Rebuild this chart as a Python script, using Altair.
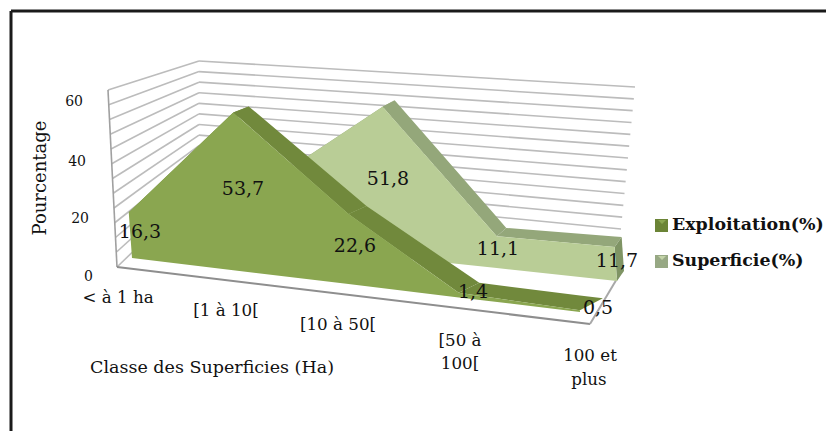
import altair as alt
import pandas as pd

categories = ["< à 1 ha", "[1 à 10[", "[10 à 50[", "[50 à 100[", "100 et plus"]
exploitation = [16.3, 53.7, 22.6, 1.4, 0.5]
superficie = [2.0, 23.4, 51.8, 11.1, 11.7]
exploitation_labels = ["16,3", "53,7", "22,6", "1,4", "0,5"]
superficie_labels = [None, None, "51,8", "11,1", "11,7"]
value_ticks = [0, 20, 40, 60]
grid_values = list(range(0, 65, 5))

# screen layout of the 3D view (separate from the data above)
EX_X = [132, 244, 353, 459, 580]
SU_X = [169, 281, 393, 499, 617]

SERIF = "DejaVu Serif"
W, H = 818, 423
X = alt.Scale(domain=[8, 8 + W], range=[0, W], nice=False, zero=False)
Y = alt.Scale(domain=[8 + H, 8], nice=False, zero=False)


def ex_base(i):
    x = EX_X[i]
    return x, 258 + 54 * (x - 132) / 448


def ex_top(i, v):
    x, y = ex_base(i)
    return x - 0.2 * v, y - (2.8 + 0.65 * i / 4) * v


def ex_back(i, v):
    x, y = ex_top(i, v)
    u = i / 4
    return x + 13 + 10 * u, y - 4 - 8 * u


def su_base(i):
    x = SU_X[i]
    return x, 233 + 48 * (x - 169) / 448


def su_top(i, v):
    x, y = su_base(i)
    return x - 0.2 * v, y - 2.9 * v


def su_back(i, v):
    x, y = su_top(i, v)
    u = i / 4
    return x + 17 - 10 * u, y - 3 - 7 * u


def lerp(a, b, t):
    return a[0] + (b[0] - a[0]) * t, a[1] + (b[1] - a[1]) * t


def polygon(points, colour):
    """Turn an x-monotone polygon into an area mark with upper and lower edges."""
    xs = sorted({round(p[0], 3) for p in points})
    rows = []
    n = len(points)
    for x in xs:
        ys = []
        for i in range(n):
            a, b = points[i], points[(i + 1) % n]
            lo, hi = min(a[0], b[0]), max(a[0], b[0])
            if lo - 1e-3 <= x <= hi + 1e-3:
                if hi - lo < 1e-6:
                    ys += [a[1], b[1]]
                else:
                    ys.append(a[1] + (b[1] - a[1]) * (x - a[0]) / (b[0] - a[0]))
        rows.append({"x": x, "y": min(ys), "y2": max(ys)})
    return (
        alt.Chart(pd.DataFrame(rows))
        .mark_area(color=colour, opacity=1, orient="vertical", interpolate="linear")
        .encode(
            x=alt.X("x:Q", scale=X, axis=None),
            y=alt.Y("y:Q", scale=Y, axis=None),
            y2="y2:Q",
        )
    )


def segment(a, b, colour, width):
    return (
        alt.Chart(pd.DataFrame({"x": [a[0], b[0]], "y": [a[1], b[1]]}))
        .mark_line(color=colour, strokeWidth=width, clip=False)
        .encode(
            x=alt.X("x:Q", scale=X, axis=None),
            y=alt.Y("y:Q", scale=Y, axis=None),
            order=alt.Order("x:Q"),
        )
    )


def label(text, x, y, size, weight="normal", angle=0, align="center", colour="#111111"):
    return (
        alt.Chart(pd.DataFrame({"x": [x], "y": [y], "t": [text]}))
        .mark_text(
            font=SERIF, fontSize=size, fontWeight=weight, angle=angle, align=align,
            baseline="middle", color=colour,
        )
        .encode(
            x=alt.X("x:Q", scale=X, axis=None),
            y=alt.Y("y:Q", scale=Y, axis=None),
            text="t:N",
        )
    )


layers = []

# frame
layers.append(segment((11, 11), (8 + W, 11), "#1a1a1a", 3))
layers.append(segment((11, 11), (11, 8 + H), "#1a1a1a", 3))

# walls
FL0, FL1 = (117, 267), (108, 90)
BL0, BL1 = (199, 188), (199, 61)
BR0, BR1 = (621, 229), (635, 87)
GRID = "#bcbcbc"
for g in grid_values:
    t = g / 60
    back_left = lerp(BL0, BL1, t)
    layers.append(segment(lerp(FL0, FL1, t), back_left, GRID, 1.6))
    layers.append(segment(back_left, lerp(BR0, BR1, t), GRID, 1.6))
layers.append(segment(FL0, FL1, "#a0a0a0", 1.6))

# floor edges
layers.append(segment(FL0, (590, 324), "#8e8e8e", 2))
layers.append(segment((590, 324), (621, 272), "#a8a8a8", 2))

n = len(categories)
idx = list(range(n))

# Superficie
su_t = [su_top(i, v) for i, v in zip(idx, superficie)]
su_b = [su_back(i, v) for i, v in zip(idx, superficie)]
for i in range(n - 1):
    layers.append(polygon([su_t[i], su_b[i], su_b[i + 1], su_t[i + 1]], "#94a77a"))
end = su_base(n - 1)
layers.append(polygon([su_t[-1], su_b[-1], (end[0] + 7, end[1] - 10), end], "#7f9464"))
layers.append(polygon(su_t + [su_base(n - 1), su_base(0)], "#b9cd96"))

# Exploitation
ex_t = [ex_top(i, v) for i, v in zip(idx, exploitation)]
ex_b = [ex_back(i, v) for i, v in zip(idx, exploitation)]
for i in range(n - 1):
    layers.append(polygon([ex_t[i], ex_b[i], ex_b[i + 1], ex_t[i + 1]], "#71893c"))
layers.append(polygon(ex_t + [ex_base(n - 1), ex_base(0)], "#8aa650"))

# value axis
for v, (lx, ly) in zip(value_ticks, [(93, 277), (89, 219), (86, 162), (83, 102)]):
    layers.append(label(str(v), lx, ly, 14, align="right"))
layers.append(label("Pourcentage", 41, 178, 18, angle=270))
layers.append(label("Classe des Superficies (Ha)", 212, 368, 17.5))

# category labels
layers.append(label(categories[0], 118, 298, 16.7))
layers.append(label(categories[1], 226, 311, 16.7))
layers.append(label(categories[2], 338, 325, 16.7))
layers.append(label("[50 à", 460, 341, 16.7))
layers.append(label("100[", 460, 364, 16.7))
layers.append(label("100 et", 590, 356, 16.7))
layers.append(label("plus", 589, 380, 16.7))

# data labels
for i, lab, t, nudge in zip(idx, exploitation_labels, ex_t, [8, -1, 2, 14, 18]):
    base = ex_base(i)
    layers.append(label(lab, base[0] + nudge, (t[1] + base[1]) / 2 - 3, 19))
for i, lab, t, nudge in zip(idx, superficie_labels, su_t, [0, 0, -5, -1, 0]):
    if lab:
        base = su_base(i)
        layers.append(label(lab, base[0] + nudge, (t[1] + base[1]) / 2 - 3, 19))

# legend
for name, top, outer, inner in [
    ("Exploitation(%)", 219, "#6b8436", "#8aa650"),
    ("Superficie(%)", 255, "#97a884", "#c3d3a8"),
]:
    layers.append(polygon([(655, top), (668, top), (668, top + 13), (655, top + 13)], outer))
    layers.append(polygon([(658, top + 1), (666, top + 1), (662, top + 5)], inner))
    layers.append(label(name, 672, top + 6, 17.4, weight="bold", align="left"))

chart = alt.layer(*layers).properties(
    width=W, height=H, padding=0, autosize=alt.AutoSizeParams(type="none"),
    background="white",
).configure_view(stroke=None)

chart.save("out.html", embed_options={"renderer": "svg", "actions": False})
